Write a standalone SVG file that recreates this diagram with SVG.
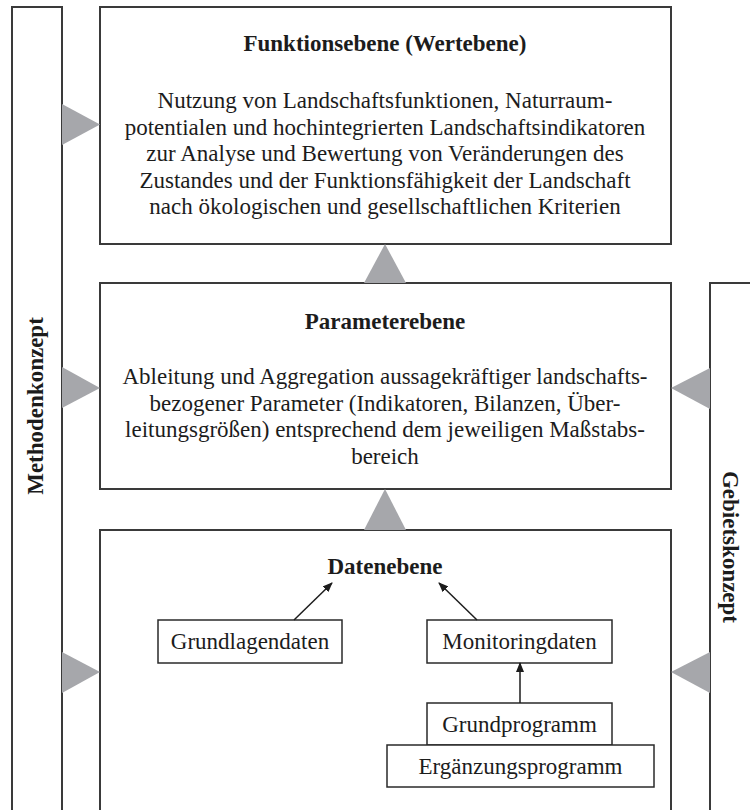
<svg xmlns="http://www.w3.org/2000/svg" width="750" height="810" viewBox="0 0 750 810">
<defs>
<style>
.frame{fill:#fff;stroke:#3a3a3a;stroke-width:2}
.small{fill:#fff;stroke:#2a2a2a;stroke-width:1.5}
.tri{fill:#a6a7ab;stroke:none}
text{font-family:"Liberation Serif","Times New Roman",serif;fill:#1c1c1c}
.t{font-size:23px;text-anchor:middle}
.b{font-weight:bold}
.link{stroke:#1c1c1c;stroke-width:1.5;fill:none}
</style>
<marker id="ah" markerWidth="10" markerHeight="8" refX="9" refY="4" orient="auto" markerUnits="userSpaceOnUse">
<path d="M0,0 L10,4 L0,8 Z" fill="#1c1c1c"/>
</marker>
</defs>
<rect width="750" height="810" fill="#fff"/>

<g id="methodenkonzept">
<rect class="frame" x="12" y="7" width="50" height="820"/>
<text class="t b" transform="translate(43,406) rotate(-90)">Methodenkonzept</text>
</g>

<g id="gebietskonzept">
<rect class="frame" x="710" y="283" width="60" height="540"/>
<text class="t b" transform="translate(723,547) rotate(90)">Gebietskonzept</text>
</g>

<g id="funktionsebene">
<rect class="frame" x="100" y="7" width="571" height="237"/>
<text class="t b" x="385" y="51">Funktionsebene (Wertebene)</text>
<text class="t" x="385" y="108">Nutzung von Landschaftsfunktionen, Naturraum-</text>
<text class="t" x="385" y="134.5">potentialen und hochintegrierten Landschaftsindikatoren</text>
<text class="t" x="385" y="161">zur Analyse und Bewertung von Veränderungen des</text>
<text class="t" x="385" y="187.5">Zustandes und der Funktionsfähigkeit der Landschaft</text>
<text class="t" x="385" y="214">nach ökologischen und gesellschaftlichen Kriterien</text>
</g>

<g id="parameterebene">
<rect class="frame" x="100" y="283" width="571" height="206"/>
<text class="t b" x="385" y="329">Parameterebene</text>
<text class="t" x="385" y="384">Ableitung und Aggregation aussagekräftiger landschafts-</text>
<text class="t" x="385" y="410.5">bezogener Parameter (Indikatoren, Bilanzen, Über-</text>
<text class="t" x="385" y="437">leitungsgrößen) entsprechend dem jeweiligen Maßstabs-</text>
<text class="t" x="385" y="463.5">bereich</text>
</g>

<g id="datenebene">
<rect class="frame" x="100" y="530" width="571" height="300"/>
<text class="t b" x="385" y="574">Datenebene</text>
</g>

<g id="grundlagendaten">
<rect class="small" x="158" y="620" width="184" height="43"/>
<text class="t" x="250" y="649">Grundlagendaten</text>
</g>

<g id="monitoringdaten">
<rect class="small" x="427" y="620" width="185" height="43"/>
<text class="t" x="519.5" y="649">Monitoringdaten</text>
</g>

<g id="grundprogramm">
<rect class="small" x="427" y="703" width="185" height="42"/>
<text class="t" x="519.5" y="732">Grundprogramm</text>
</g>

<g id="ergaenzungsprogramm">
<rect class="small" x="387" y="745" width="267" height="42"/>
<text class="t" x="520.5" y="774">Ergänzungsprogramm</text>
</g>

<g id="connectors">
<polygon class="tri" points="62,104 62,145 100,124.5"/>
<polygon class="tri" points="62,367 62,408 100,388"/>
<polygon class="tri" points="62,652 62,693 100,672"/>
<polygon class="tri" points="710,368 710,409 671,388"/>
<polygon class="tri" points="710,652 710,693 671,672"/>
<polygon class="tri" points="364,283 406,283 385,244"/>
<polygon class="tri" points="364,530 406,530 385,489"/>
<line class="link" x1="294" y1="620" x2="332" y2="583" marker-end="url(#ah)"/>
<line class="link" x1="477" y1="620" x2="439" y2="583" marker-end="url(#ah)"/>
<line class="link" x1="520" y1="703" x2="520" y2="663" marker-end="url(#ah)"/>
</g>
</svg>
